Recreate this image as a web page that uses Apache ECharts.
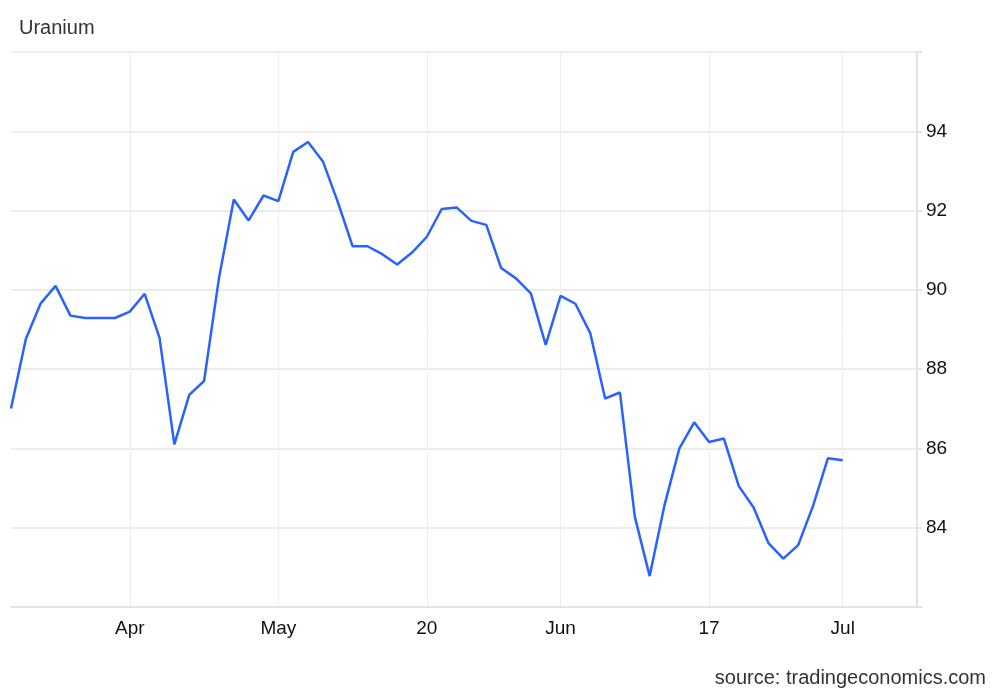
<!DOCTYPE html>
<html>
<head>
<meta charset="utf-8">
<script src="https://cdn.jsdelivr.net/npm/echarts@6/dist/echarts.min.js"></script>
<style>
html,body{margin:0;padding:0;background:#fff;}
#chart{width:1000px;height:693px;}
</style>
</head>
<body>
<div id="chart"></div>
<script>
// x categories (one per observation, plus empty slots after the last point); labelled ones are shown
const categories = [
  '', '', '', '', '', '', '', '', 'Apr', '',
  '', '', '', '', '', '', '', '', 'May', '',
  '', '', '', '', '', '', '', '', '20', '',
  '', '', '', '', '', '', '', 'Jun', '', '',
  '', '', '', '', '', '', '', '17', '', '',
  '', '', '', '', '', '', 'Jul', '', '', '',
  '', ''
];
// Uranium price values
const uranium = [
  87.01, 88.76, 89.66, 90.10, 89.35, 89.29, 89.29, 89.29, 89.45, 89.90,
  88.79, 86.10, 87.35, 87.70, 90.29, 92.28, 91.75, 92.38, 92.24, 93.48,
  93.73, 93.24, 92.22, 91.10, 91.10, 90.90, 90.64, 90.94, 91.34, 92.04,
  92.08, 91.74, 91.64, 90.55, 90.29, 89.91, 88.61, 89.85, 89.65, 88.91,
  87.26, 87.41, 84.28, 82.78, 84.57, 86.00, 86.66, 86.16, 86.25, 85.05,
  84.51, 83.61, 83.22, 83.56, 84.55, 85.75, 85.70
];
const yTicks = [84, 86, 88, 90, 92, 94];

const FONT = "Arial, 'Liberation Sans', Helvetica, sans-serif";
const chart = echarts.init(document.getElementById('chart'), null, {renderer: 'canvas'});
const shown = (idx, val) => categories[idx] !== '';
chart.setOption({
  animation: false,
  backgroundColor: '#ffffff',
  title: [
    {text: 'Uranium', left: 14, top: 13,
     textStyle: {fontFamily: FONT, fontSize: 20, fontWeight: 'normal', color: '#333'}},
    {text: 'source: tradingeconomics.com', right: 9, top: 663,
     textStyle: {fontFamily: FONT, fontSize: 20, fontWeight: 'normal', color: '#333'}}
  ],
  grid: {left: 11, right: 83, top: 52, bottom: 86, containLabel: false},
  xAxis: {
    type: 'category',
    data: categories,
    boundaryGap: false,
    axisLine: {show: true, lineStyle: {color: '#e3e3e3', width: 2}},
    axisTick: {show: false},
    axisLabel: {interval: shown, color: '#111', fontFamily: FONT, fontSize: 19, margin: 12},
    splitLine: {show: true, interval: shown, lineStyle: {color: '#e9eef5', width: 1}}
  },
  yAxis: {
    type: 'value',
    position: 'right',
    min: 82, max: 96, interval: 2,
    axisLine: {show: true, lineStyle: {color: '#e3e3e3', width: 2}},
    axisTick: {show: true, length: 5, lineStyle: {color: '#e3e3e3', width: 2}},
    axisLabel: {
      color: '#111', fontFamily: FONT, fontSize: 19, margin: 9,
      formatter: v => yTicks.indexOf(v) >= 0 ? String(v) : ''
    },
    splitLine: {show: true, lineStyle: {color: '#e6e6e6', width: 1.5}}
  },
  series: [{
    type: 'line',
    data: uranium,
    showSymbol: false,
    symbol: 'none',
    lineStyle: {color: '#2962ff', width: 2.5},
    itemStyle: {color: '#2962ff'}
  }]
});
</script>
</body>
</html>
